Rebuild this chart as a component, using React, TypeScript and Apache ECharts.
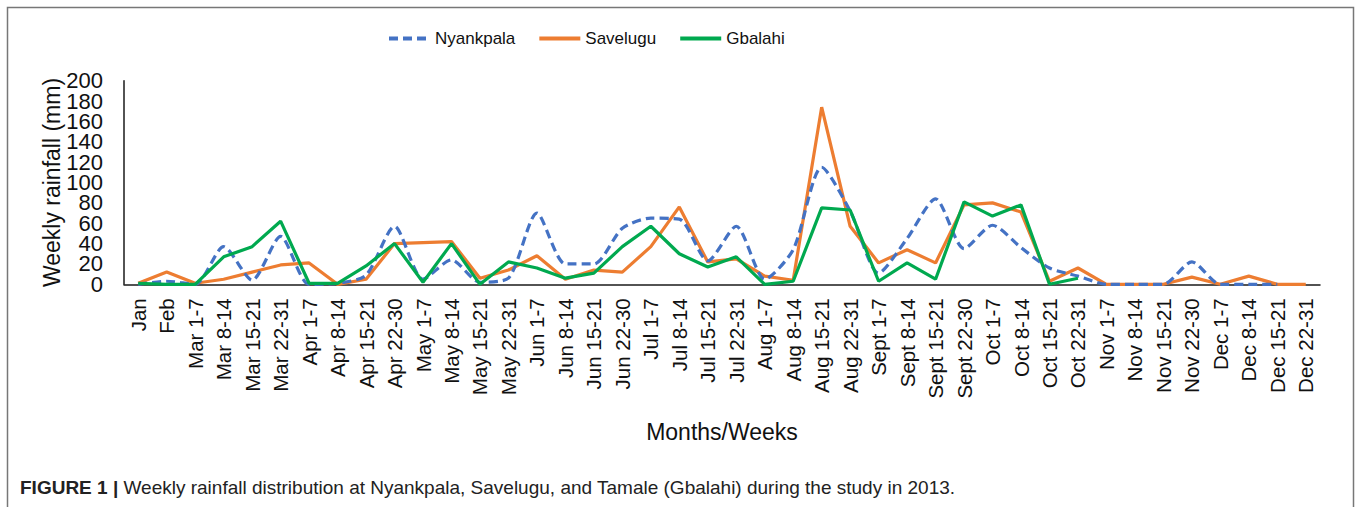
import React, { useEffect, useRef } from "react";
import * as echarts from "echarts";

const categories = [
  "Jan", "Feb", "Mar 1-7", "Mar 8-14", "Mar 15-21", "Mar 22-31",
  "Apr 1-7", "Apr 8-14", "Apr 15-21", "Apr 22-30",
  "May 1-7", "May 8-14", "May 15-21", "May 22-31",
  "Jun 1-7", "Jun 8-14", "Jun 15-21", "Jun 22-30",
  "Jul 1-7", "Jul 8-14", "Jul 15-21", "Jul 22-31",
  "Aug 1-7", "Aug 8-14", "Aug 15-21", "Aug 22-31",
  "Sept 1-7", "Sept 8-14", "Sept 15-21", "Sept 22-30",
  "Oct 1-7", "Oct 8-14", "Oct 15-21", "Oct 22-31",
  "Nov 1-7", "Nov 8-14", "Nov 15-21", "Nov 22-30",
  "Dec 1-7", "Dec 8-14", "Dec 15-21", "Dec 22-31",
];

const nyankpala: (number | string)[] = [
  0, 3, 0, 37, 4, 47, 0, 1, 9, 57, 5, 24, 2, 6, 70, 20, 20, 55, 65, 64, 23, 57,
  5, 34, 115, 72, 11, 45, 84, 35, 58, 36, 16, 8, 0, 0, 0, 22, 0, 0, 0, "-",
];

const savelugu: (number | string)[] = [
  1, 12, 1, 5, 12, 19, 21, 0, 5, 40, 41, 42, 6, 14, 28, 5, 14, 12, 37, 76, 22, 25,
  8, 4, 174, 57, 21, 34, 21, 78, 80, 71, 3, 16, 0, 0, 0, 7, 0, 8, 0, 0,
];

const gbalahi: (number | string)[] = [
  1, 0, 0, 27, 37, 62, 1, 1, 18, 40, 2, 40, 0, 22, 16, 6, 11, 37, 57, 30, 17, 27,
  0, 3, 75, 73, 3, 21, 5, 81, 67, 78, 0, 6, "-", "-", "-", "-", "-", "-", "-", "-",
];

const yTickValues = [0, 20, 40, 60, 80, 100, 120, 140, 160, 180, 200];

const FONT = "'Liberation Sans', Arial, sans-serif";

export default function App() {
  const ref = useRef<HTMLDivElement>(null);
  useEffect(() => {
    document.body.style.margin = "0";
    if (!ref.current) return;
    const chart = echarts.init(ref.current, null, { renderer: "svg" });
    const staticGraphics: any[] = [
      {
        type: "rect",
        silent: true,
        shape: { x: 7.5, y: 7.5, width: 1346, height: 540 },
        style: { fill: "none", stroke: "#777", lineWidth: 1.5 },
        z: -1,
      },
      {
        type: "text",
        left: 20,
        top: 478,
        style: {
          text: "{b|FIGURE 1 |} Weekly rainfall distribution at Nyankpala, Savelugu, and Tamale (Gbalahi) during the study in 2013.",
          rich: {
            b: { fontWeight: "bold", fontSize: 19, fontFamily: FONT, fill: "#222" },
          },
          fontSize: 19,
          fontFamily: FONT,
          fill: "#222",
        },
      },
    ];
    chart.setOption({
      animation: false,
      backgroundColor: "#ffffff",
      textStyle: { fontFamily: FONT },
      legend: {
        left: 382,
        top: 25,
        itemWidth: 41,
        itemHeight: 4,
        itemGap: 22,
        lineStyle: { width: 4 },
        textStyle: { fontFamily: FONT, fontSize: 17, color: "#111" },
        data: ["Nyankpala", "Savelugu", "Gbalahi"],
      },
      grid: { left: 124, right: 37, top: 80.7, bottom: 222.7, containLabel: false },
      xAxis: {
        type: "category",
        data: categories,
        boundaryGap: true,
        axisLine: { lineStyle: { color: "#1a1a1a", width: 1.5 } },
        axisTick: { show: false },
        axisLabel: {
          interval: 0,
          rotate: 90,
          margin: 14,
          fontSize: 20.5,
          color: "#111",
          fontFamily: FONT,
        },
        name: "Months/Weeks",
        nameLocation: "middle",
        nameGap: 136,
        nameMoveOverlap: false,
        nameTextStyle: { fontFamily: FONT, fontSize: 23, color: "#111" },
      },
      yAxis: {
        type: "value",
        min: yTickValues[0],
        max: yTickValues[yTickValues.length - 1],
        interval: yTickValues[1] - yTickValues[0],
        axisLine: { show: true, lineStyle: { color: "#1a1a1a", width: 1.5 } },
        axisTick: { show: false },
        splitLine: { show: false },
        axisLabel: { show: false },
        name: "Weekly rainfall (mm)",
        nameLocation: "middle",
        nameGap: 61,
        nameMoveOverlap: false,
        nameTextStyle: { fontSize: 23, color: "#111", fontFamily: FONT },
      },
      series: [
        {
          name: "Nyankpala",
          type: "line",
          data: nyankpala,
          symbol: "none",
          smooth: 0.25,
          color: "#4472C4",
          lineStyle: { color: "#4472C4", width: 3.2, type: [9, 5] },
          z: 3,
        },
        {
          name: "Savelugu",
          type: "line",
          data: savelugu,
          symbol: "none",
          color: "#ED7D31",
          lineStyle: { color: "#ED7D31", width: 3.2 },
          z: 2,
        },
        {
          name: "Gbalahi",
          type: "line",
          data: gbalahi,
          symbol: "none",
          color: "#00A94F",
          lineStyle: { color: "#00A94F", width: 3.2 },
          z: 4,
        },
      ],
      graphic: staticGraphics,
    });
    // y-axis tick labels placed through the axis' own scale
    const axisX = chart.convertToPixel({ xAxisIndex: 0 }, categories[0]) as number;
    const gridLeft = axisX - (chart.convertToPixel({ xAxisIndex: 0 }, categories[1]) as number - axisX) / 2;
    const labelTexts = yTickValues.map((v) => ({
      type: "text",
      silent: true,
      x: gridLeft - 21,
      y: chart.convertToPixel({ yAxisIndex: 0 }, v) as number,
      style: {
        text: String(v),
        fontSize: 22,
        lineHeight: 18,
        fontFamily: FONT,
        fill: "#111",
        align: "right",
        verticalAlign: "middle",
      },
    }));
    chart.setOption({ graphic: [...staticGraphics, ...labelTexts] });
    return () => chart.dispose();
  }, []);
  return <div ref={ref} style={{ width: 1357, height: 507 }} />;
}
